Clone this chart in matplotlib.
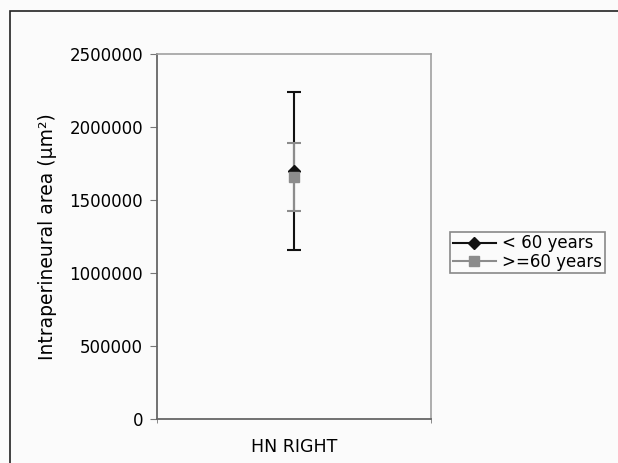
import matplotlib.pyplot as plt
from matplotlib.lines import Line2D
from matplotlib.patches import Rectangle

plt.rcParams['font.family'] = ['DejaVu Sans']

categories = ['HN RIGHT']
series = ['< 60 years', '>=60 years']
means = [1700000, 1660000]
errors = [543000, 232000]
colors = ['#111111', '#8c8c8c']
markers = ['D', 's']

fig = plt.figure(figsize=(6.18, 4.63), dpi=100)
fig.patch.set_facecolor('#fbfbfb')
ax = fig.add_axes([157 / 618, 1 - 419 / 463, 274 / 618, 365 / 463])
ax.set_facecolor('#fbfbfb')

x = list(range(len(categories)))
handles = []
for name, m, e, c, mk in zip(series, means, errors, colors, markers):
    ms = 7 if mk == 's' else 6
    ax.errorbar(x, [m], yerr=[e], color=c, ecolor=c, marker=mk,
                markersize=ms, capsize=5, capthick=1.5,
                elinewidth=1.5, linewidth=1.5)
    handles.append(Line2D([], [], color=c, marker=mk, markersize=ms,
                          linewidth=1.5, label=name))

ax.set_xlim(-0.5, 0.5)
ax.set_ylim(0, 2500000)
ax.set_yticks(range(0, 2500001, 500000))
ax.set_yticklabels([str(v) for v in range(0, 2500001, 500000)], fontsize=12)
ax.set_xticks(x)
ax.set_xticklabels(categories, fontsize=12.5)
ax.set_xticks([-0.5, 0.5], minor=True)
ax.tick_params(axis='x', which='major', length=0, pad=14)
ax.tick_params(axis='x', which='minor', length=3, color='#777777')
ax.tick_params(axis='y', length=5, color='#777777', pad=5)
ax.set_ylabel('Intraperineural area (µm²)', fontsize=13.5, labelpad=9)

for s in ['top', 'right']:
    ax.spines[s].set_color('#a0a0a0')
    ax.spines[s].set_linewidth(1.2)
for s in ['left', 'bottom']:
    ax.spines[s].set_color('#666666')
    ax.spines[s].set_linewidth(1.3)

leg = fig.legend(handles=handles, loc='upper left',
                 bbox_to_anchor=(450 / 618, 1 - 232 / 463), fontsize=12,
                 frameon=True, fancybox=False, edgecolor='#888888',
                 facecolor='#fbfbfb', framealpha=1,
                 handlelength=2.6, handletextpad=0.4, borderpad=0.15,
                 labelspacing=0.02, borderaxespad=0)
leg.get_frame().set_linewidth(1.2)

fig.patches.append(Rectangle((10 / 618, -0.01), 1.0, 1 - 11 / 463 + 0.01,
                             transform=fig.transFigure, fill=False,
                             edgecolor='#222222', linewidth=1.2))

fig.savefig('out.png', dpi=100, facecolor=fig.get_facecolor())
